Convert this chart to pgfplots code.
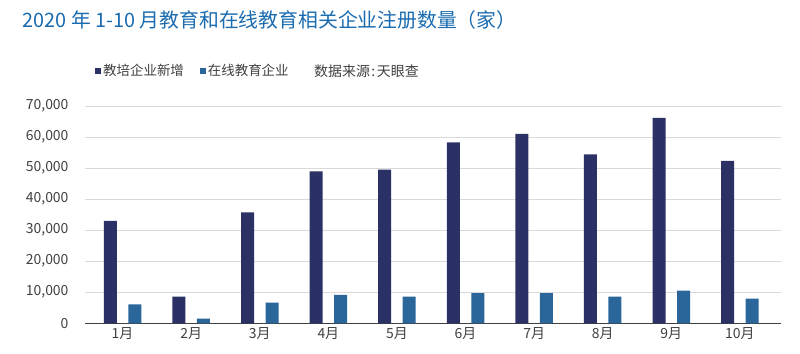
\documentclass[border=0pt]{standalone}
\usepackage{pgfplots}
\pgfplotsset{compat=1.18}
\usepackage{fontspec}
\setmainfont{Noto Sans CJK SC}
\definecolor{darkbar}{HTML}{2B3165}
\definecolor{lightbar}{HTML}{2A6699}
\definecolor{titleblue}{HTML}{1A6BB0}
\definecolor{txt}{HTML}{404040}
\definecolor{gridgray}{HTML}{D9D9D9}
\begin{document}
\begin{tikzpicture}[x=1bp,y=1bp]
\useasboundingbox (0,0) rectangle (800,353);
\node[anchor=west, text=titleblue, font=\fontsize{19.9}{22}\selectfont, inner sep=0pt] at (22.5,333) {2020 年 1-10 月教育和在线教育相关企业注册数量（家）};
\node[anchor=west, text=txt, font=\fontsize{14}{16}\selectfont, inner sep=0pt] at (314,282) {数据来源\hspace{1.5bp}:\hspace{1.5bp}天眼查};
\begin{axis}[
  at={(85bp,29.7bp)}, anchor=south west,
  scale only axis, width=696bp, height=217.3bp,
  xmin=-0.548, xmax=9.6, ymin=0, ymax=70000,
  ybar, bar width=13bp,
  xtick={0,...,9},
  xticklabels={1月,2月,3月,4月,5月,6月,7月,8月,9月,10月},
  ytick={0,10000,...,70000},
  scaled y ticks=false,
  /pgf/number format/.cd, 1000 sep={,}, assume math mode=true, /pgfplots/.cd,
  ymajorgrids, xmajorgrids=false,
  major grid style={draw=gridgray, line width=1pt},
  major tick length=0pt,
  axis x line*=bottom, axis y line*=left,
  x axis line style={txt, line width=1pt, -},
  y axis line style={draw=none},
  ticklabel style={font=\fontsize{14}{16}\selectfont, text=txt},
  yticklabel style={xshift=-13bp},
  xticklabel style={yshift=-1bp},
  legend style={at={(axis description cs:0.0144,1.161)}, anchor=west, draw=none, fill=none, inner sep=0pt,
    font=\fontsize{13.5}{15}\selectfont, text=txt,
    /tikz/every even column/.append style={column sep=14bp}},
  legend columns=2,
  legend image code/.code={\fill[#1] (-1.5bp,-3bp) rectangle (4.5bp,3bp);},
]
\addplot[fill=darkbar, draw=none, bar shift=-12.25bp] coordinates {
(0,32960) (1,8570) (2,35760) (3,48970) (4,49500) (5,58300) (6,61000) (7,54450) (8,66140) (9,52290)};
\addplot[fill=lightbar, draw=none, bar shift=12.25bp] coordinates {
(0,6100) (1,1500) (2,6640) (3,9120) (4,8570) (5,9760) (6,9760) (7,8570) (8,10500) (9,7940)};
\legend{教培企业新增,在线教育企业}
\end{axis}
\end{tikzpicture}
\end{document}
